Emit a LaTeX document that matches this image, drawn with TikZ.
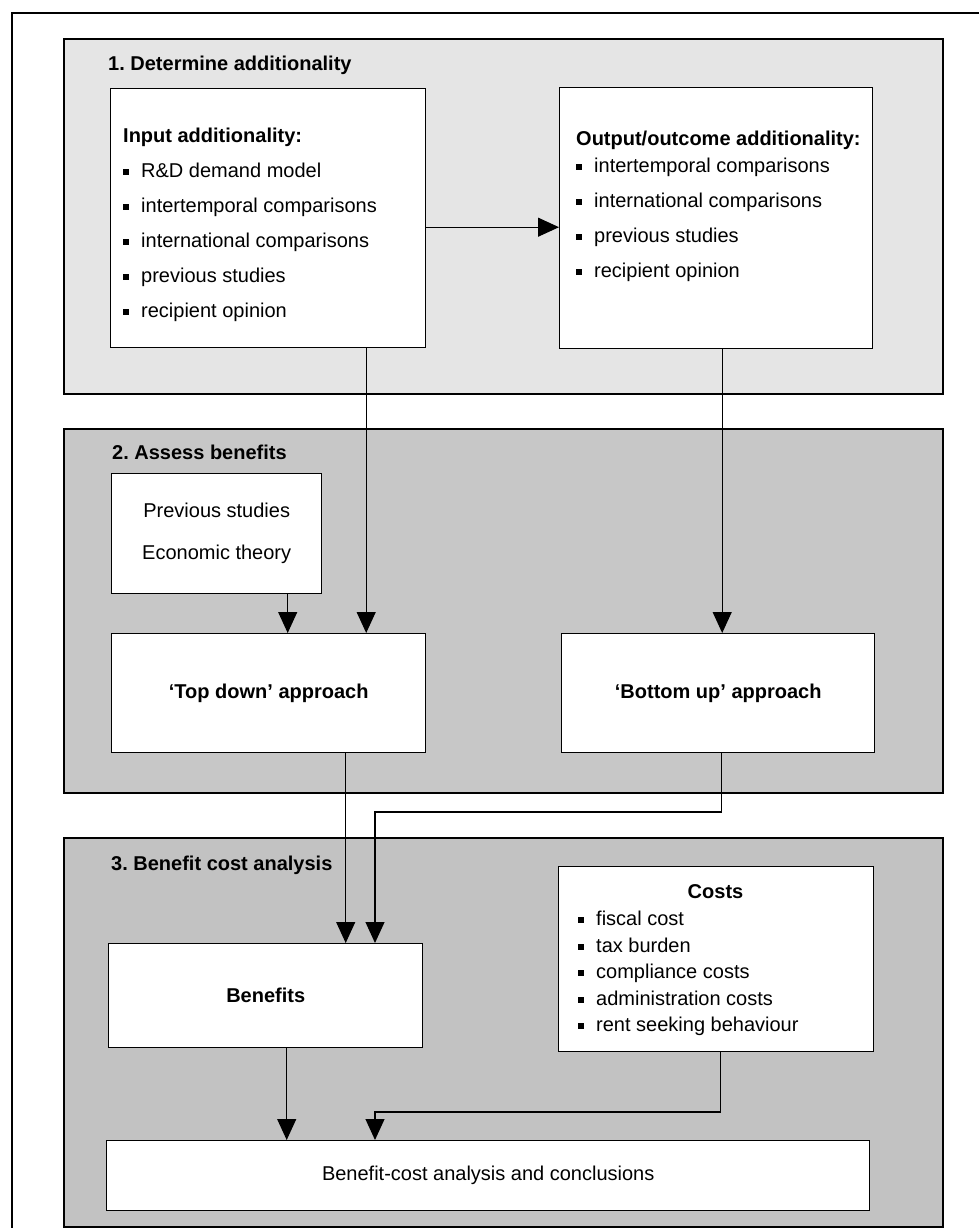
\documentclass[tikz,border=0pt]{standalone}
\usepackage{fontspec}
\setmainfont{Liberation Sans}
\usetikzlibrary{arrows.meta}
\newcommand{\blt}{\rule[2.5pt]{6pt}{6pt}\hspace{12pt}}
\frenchspacing

\begin{document}
\begin{tikzpicture}[x=1pt,y=-1pt,
	panel/.style={draw, line width=1.6pt, fill=black!#1, minimum width=879, anchor=north west},
	box/.style={draw, line width=1.4pt, fill=white, anchor=north west, inner sep=0},
	head/.style={font=\fontsize{20}{24}\selectfont\bfseries, anchor=base west, inner sep=0},
	txt/.style={font=\fontsize{20}{#1}\selectfont, align=left, anchor=north west, inner sep=0},
	arr/.style={line width=1.1pt, -{Triangle[length=21pt,width=19pt]}}]
	\useasboundingbox (0,0) rectangle (979,1228);
	% frame
	\draw[line width=1.2pt] (12,1228) -- (12,13) -- (979,13);
	% panels
	\node[panel=10, minimum height=355] (stage1) at (63,38) {};
	\node[panel=22, minimum height=364] (stage2) at (63,428) {};
	\node[panel=24, minimum height=389] (stage3) at (63,837) {};
	\node[head] (head1) at (108,71) {1. Determine additionality};
	\node[head] (head2) at (112,459) {2. Assess benefits};
	\node[head] (head3) at (111,870) {3. Benefit cost analysis};
	% stage 1
	\node[box, minimum width=315, minimum height=259] (inbox) at (110,88) {};
	\node[txt=35] (inlist) at (123,128) {\textbf{Input additionality:}\\
		\blt R\&D demand model\\ \blt intertemporal comparisons\\
		\blt international comparisons\\ \blt previous studies\\
		\blt recipient opinion};
	\node[box, minimum width=313, minimum height=261] (outbox) at (559,87) {};
	\node[txt=35] (outlist) at (576,131) {\textbf{Output/outcome additionality:}\\[-8pt]
		\blt intertemporal comparisons\\ \blt international comparisons\\
		\blt previous studies\\ \blt recipient opinion};
	% stage 2
	\node[box, minimum width=210, minimum height=120, align=center,
		font=\fontsize{20}{42}\selectfont] (prevbox) at (111,473) {Previous studies\\Economic theory};
	\node[box, minimum width=314, minimum height=119,
		font=\fontsize{20}{24}\selectfont\bfseries] (topdown) at (111,633) {`Top down' approach};
	\node[box, minimum width=313, minimum height=119,
		font=\fontsize{20}{24}\selectfont\bfseries] (bottomup) at (561,633) {`Bottom up' approach};
	% stage 3
	\node[box, minimum width=314, minimum height=104,
		font=\fontsize{20}{24}\selectfont\bfseries] (benefits) at (108,943) {Benefits};
	\node[box, minimum width=315, minimum height=185] (costs) at (558,866) {};
	\node[font=\fontsize{20}{24}\selectfont\bfseries, inner sep=0] (costhead) at (715.5,892) {Costs};
	\node[txt=26.5] (costlist) at (578,911) {\blt fiscal cost\\ \blt tax burden\\
		\blt compliance costs\\ \blt administration costs\\ \blt rent seeking behaviour};
	\node[box, minimum width=763, minimum height=70,
		font=\fontsize{20}{24}\selectfont] (result) at (106,1140) {Benefit-cost analysis and conclusions};
	% connectors
	\coordinate (bu) at (375,812);
	\coordinate (cb) at (375,1112);
	\draw[arr] ([yshift=-9]inbox.east) -- ([yshift=-9]outbox.west);
	\draw[arr] ([xshift=98]inbox.south) -- ([xshift=98]inbox.south |- topdown.north);
	\draw[arr] ([xshift=6]outbox.south) -- ([xshift=6]outbox.south |- bottomup.north);
	\draw[arr] ([xshift=71]prevbox.south) -- ([xshift=71]prevbox.south |- topdown.north);
	\draw[arr] ([xshift=77]topdown.south) -- ([xshift=77]topdown.south |- benefits.north);
	\draw[arr] ([xshift=3]bottomup.south) |- (bu) -- (bu |- benefits.north);
	\draw[arr] ([xshift=21]benefits.south) -- ([xshift=21]benefits.south |- result.north);
	\draw[arr] ([xshift=4.5]costs.south) |- (cb) -- (cb |- result.north);
\end{tikzpicture}
\end{document}
